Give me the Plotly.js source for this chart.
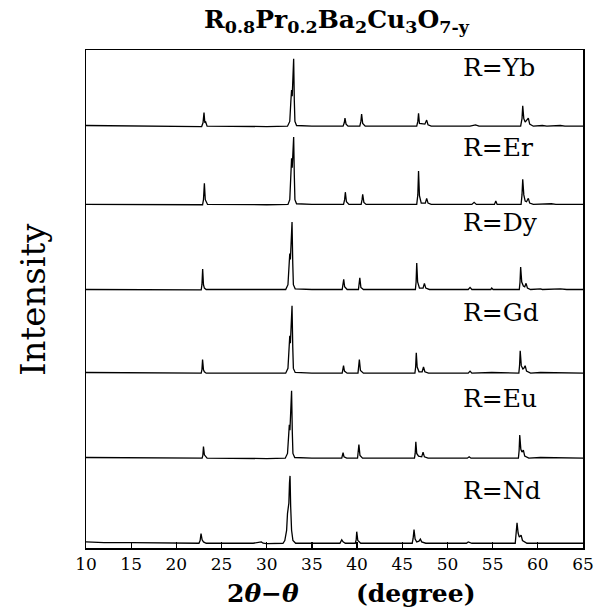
<!DOCTYPE html>
<html>
<head>
<meta charset="utf-8">
<script src="https://cdn.plot.ly/plotly-3.0.1.min.js"></script>
<style>html,body{margin:0;padding:0;background:#fff;}</style>
</head>
<body>
<div id="chart" style="width:605px;height:614px;"></div>
<script>
// Sample names (top to bottom)
const sampleNames = ["R=Yb", "R=Er", "R=Dy", "R=Gd", "R=Eu", "R=Nd"];
const xTickVals = [10, 15, 20, 25, 30, 35, 40, 45, 50, 55, 60, 65];

// Diffraction traces: 2theta (deg) and relative intensity (main peak = 100)
const ybX = [10,14,20,22.8,22.95,23.06,23.15,23.25,23.4,26,30,32.3,32.55,32.68,32.75,32.82,32.9,32.98,33.05,33.12,33.3,35,38.45,38.58,38.66,38.78,39,40.3,40.42,40.5,40.62,40.9,46.6,46.72,46.8,46.9,47.5,47.7,47.85,48.2,52.5,52.9,53.1,53.5,58.1,58.25,58.33,58.45,58.6,58.95,59.1,59.5,60.5,61,62.5,63,65];
const ybY = [2,1.5,0.5,0.5,6,21,6,7,1,0.5,0.5,1,8,40,54,45,85,100,40,8,2,1,1,6,13,4,1,1,8,19,5,1,1,8,20,5,4,10,3,1,1,3,3,1,1,12,31,12,7,13,4,1,2,1,2,1,1];

const erX = [10,20,22.9,23.0,23.1,23.2,23.3,23.45,30,32.35,32.55,32.68,32.75,32.82,32.9,32.98,33.05,33.12,33.3,35,38.5,38.62,38.7,38.82,39.1,40.45,40.55,40.62,40.75,41,46.6,46.72,46.8,46.9,47.1,47.55,47.7,47.85,48.2,52.7,52.95,53.2,55.2,55.35,55.5,58.15,58.25,58.33,58.45,58.6,58.75,58.95,59.1,59.5,61.5,62,65];
const erY = [1,0.5,0.5,8,32,8,5,1,0.5,1,8,50,69,55,88,100,45,8,2,1,1,8,19,5,1,1,8,16,4,1,1,15,50,14,3,3,10,3,1,1,4,1,1,6,1,1,15,38,15,6,5,10,3,1,2,1,1];

const dyX = [10,20,22.75,22.83,22.91,23.0,23.1,23.3,30,32.1,32.35,32.47,32.55,32.62,32.72,32.8,32.88,32.95,33.15,35,38.35,38.45,38.52,38.62,38.9,40.15,40.23,40.3,40.42,40.7,46.45,46.53,46.6,46.7,46.9,47.3,47.45,47.6,48,52.3,52.5,52.7,54.8,54.9,55.05,57.95,58.03,58.1,58.22,58.4,58.55,58.7,58.85,59.2,60.3,60.5,62.5,63.2,65];
const dyY = [1,0.5,0.5,8,31,8,3,1,0.5,1,8,45,54,45,85,100,40,8,2,1,1,7,16,5,1,1,8,18,4,1,1,12,40,12,3,3,10,3,1,1,4,1,1,3,1,1,12,34,12,6,5,10,3,1,2,1,2,1,1];

const gdX = [10,15,20,22.75,22.83,22.9,23.0,23.1,23.3,30,32.1,32.35,32.47,32.55,32.62,32.72,32.8,32.88,32.95,33.15,35,38.35,38.43,38.5,38.6,38.9,40.1,40.18,40.25,40.37,40.7,46.4,46.48,46.55,46.65,46.85,47.2,47.35,47.5,47.9,52.3,52.5,52.7,54.9,57.9,57.98,58.05,58.17,58.35,58.45,58.6,58.75,59.2,60.3,62.5,65];
const gdY = [2,1.5,1,1,6,21,6,3,1,0.5,1,8,45,56,45,85,100,40,8,2,1,1,5,12,4,1,1,8,21,5,1,1,10,31,10,3,3,10,3,1,1,4,1,2,1,12,34,12,7,8,12,4,1,2,2,1];

const euX = [10,15,20,22.85,22.93,23.0,23.1,23.2,23.4,30,32.05,32.3,32.42,32.5,32.57,32.67,32.75,32.83,32.9,33.1,35,38.3,38.38,38.45,38.55,38.85,40.05,40.13,40.2,40.32,40.6,46.35,46.43,46.5,46.6,46.8,47.15,47.3,47.45,47.85,52.2,52.4,52.6,57.85,57.93,58.0,58.12,58.25,58.4,58.55,59,60.3,62.5,65];
const euY = [2,1.5,1,1,5,18,6,4,1,0.5,1,8,40,50,42,85,100,40,8,2,1,1,4,9,3,1,1,8,21,5,1,1,8,25,8,4,3,10,3,1,1,3,1,1,12,35,14,10,13,4,1,2,2,1];

const ndX = [10,12,15,20,22.5,22.63,22.73,22.85,23.0,23.3,28.5,29.4,29.6,30,31.8,32.0,32.2,32.3,32.35,32.45,32.52,32.58,32.65,32.75,32.9,33.2,35,38.1,38.3,38.45,38.7,39.8,39.9,39.96,40.08,40.4,46.1,46.2,46.3,46.42,46.6,46.85,47.0,47.15,47.6,52.1,52.3,52.5,52.7,57.5,57.6,57.7,57.82,57.95,58.15,58.3,58.8,60,65];
const ndY = [3,2,2,1,1,5,15,6,3,1,1,3,1,0.5,1,5,20,45,53,60,90,100,55,20,5,1,1,1,6,3,1,1,6,18,5,1,1,8,21,7,3,4,7,3,1,1,3,2,1,1,12,31,16,10,13,5,1,1,1];

// Vertical stacking offsets (same units as intensity)
const offsets = [619, 504, 379, 256, 131, 6];

const seriesX = [ybX, erX, dyX, gdX, euX, ndX];
const seriesY = [ybY, erY, dyY, gdY, euY, ndY];

const font = "DejaVu Serif";

const traces = seriesX.map((xs, i) => ({
  type: "scatter",
  mode: "lines",
  x: xs,
  y: seriesY[i].map(v => v + offsets[i]),
  line: {color: "#000", width: 1.3},
  hoverinfo: "skip",
  showlegend: false
}));

// label positions (paper coords)
const labelY = [0.964, 0.805, 0.653, 0.472, 0.301, 0.116];

const annotations = sampleNames.map((n, i) => ({
  text: n, xref: "paper", yref: "paper", x: 0.7545, y: labelY[i],
  xanchor: "left", yanchor: "middle", showarrow: false,
  font: {family: font, size: 25, color: "#000"}
}));

annotations.push({
  text: "<b>R<sub>0.8</sub>Pr<sub>0.2</sub>Ba<sub>2</sub>Cu<sub>3</sub>O<sub>7-y</sub></b>",
  xref: "paper", yref: "paper", x: 0.505, y: 1.095, xanchor: "center", yanchor: "top",
  showarrow: false, font: {family: font, size: 25, color: "#000"}
});
annotations.push({
  text: "Intensity", xref: "paper", yref: "paper", x: -0.107, y: 0.5,
  xanchor: "center", yanchor: "middle", textangle: -90, showarrow: false,
  font: {family: font, size: 34, color: "#000"}
});
annotations.push({
  text: "<b>2<i>θ</i>−<i>θ</i></b>", xref: "paper", yref: "paper", x: 0.356, y: -0.092,
  xanchor: "center", yanchor: "middle", showarrow: false,
  font: {family: font, size: 25, color: "#000"}
});
annotations.push({
  text: "<b>(degree)</b>", xref: "paper", yref: "paper", x: 0.664, y: -0.092,
  xanchor: "center", yanchor: "middle", showarrow: false,
  font: {family: font, size: 25, color: "#000"}
});

const layout = {
  width: 605, height: 614,
  margin: {l: 86, r: 22, t: 50, b: 66, pad: 0},
  paper_bgcolor: "#fff", plot_bgcolor: "#fff",
  showlegend: false,
  xaxis: {
    range: [10, 65], tickvals: xTickVals, ticktext: xTickVals.map(String),
    ticks: "inside", ticklen: 6, tickwidth: 1.2, tickcolor: "#000",
    showline: true, linecolor: "#000", linewidth: 1.5, mirror: true,
    showgrid: false, zeroline: false,
    tickfont: {family: font, size: 17, color: "#000"}
  },
  yaxis: {
    range: [0, 732], showticklabels: false, ticks: "",
    showline: true, linecolor: "#000", linewidth: 1.5, mirror: true,
    showgrid: false, zeroline: false
  },
  annotations: annotations
};

Plotly.newPlot("chart", traces, layout, {displayModeBar: false, staticPlot: true});
</script>
</body>
</html>
